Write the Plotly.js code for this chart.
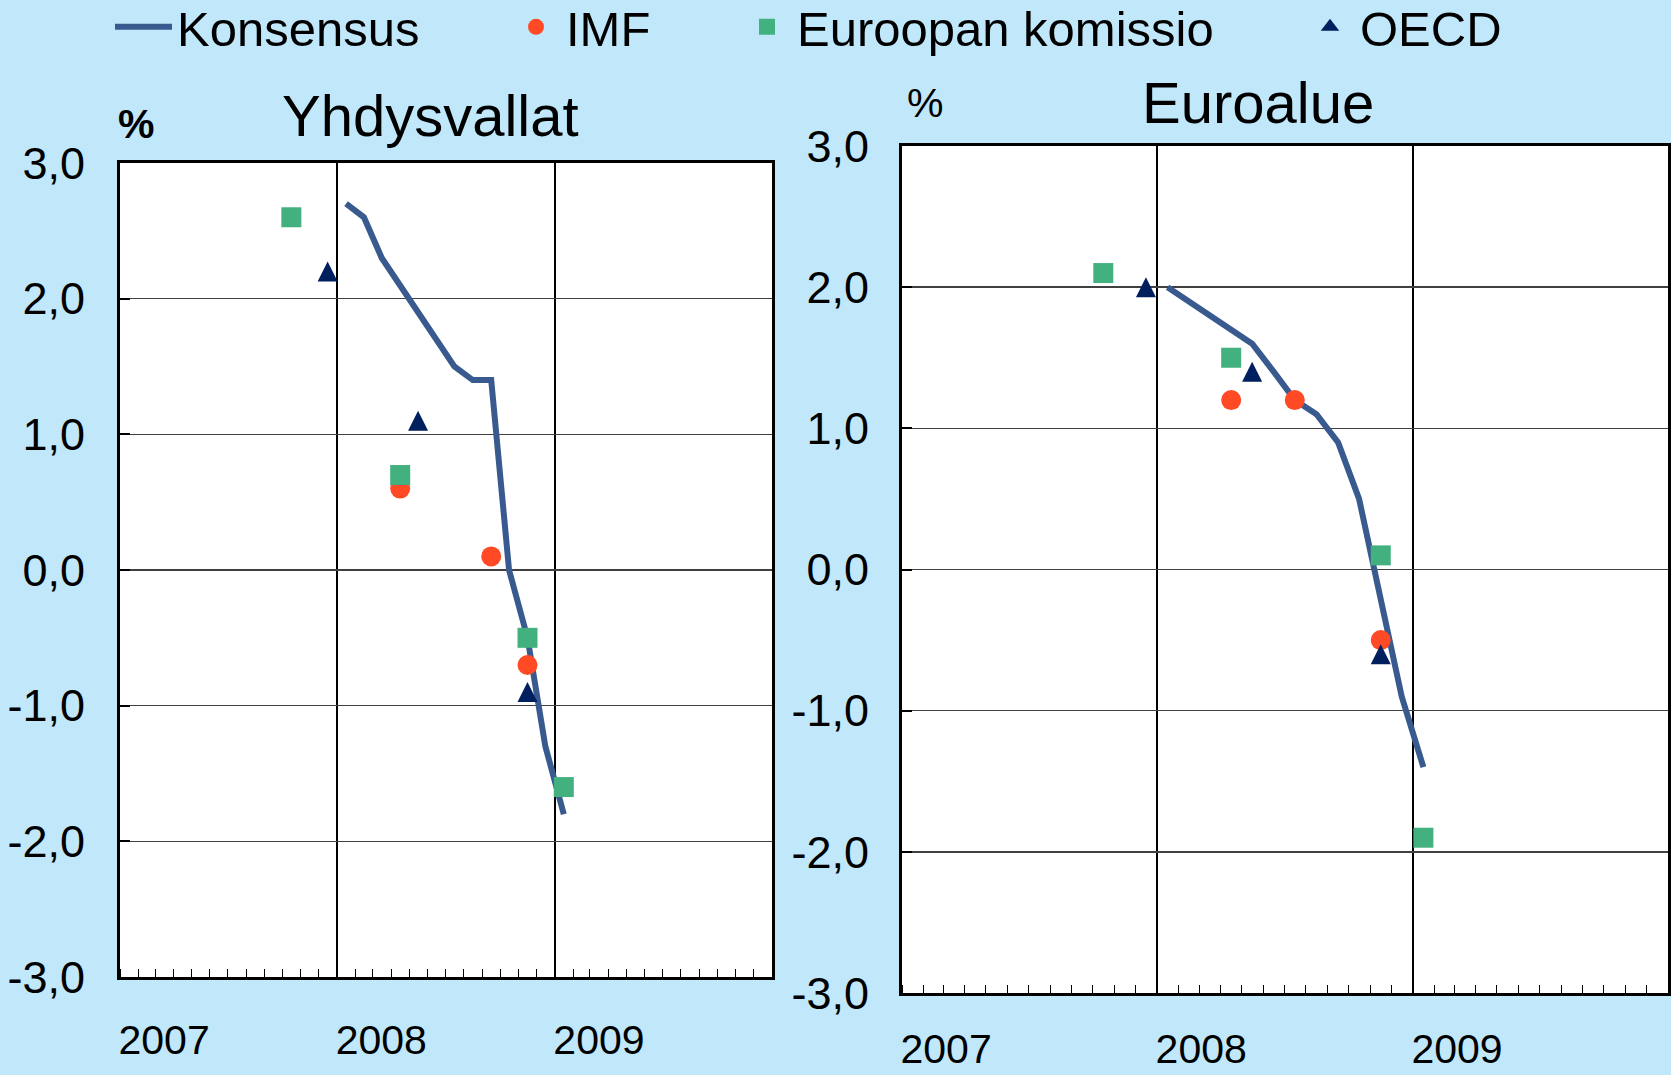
<!DOCTYPE html>
<html>
<head>
<meta charset="utf-8">
<script src="https://cdn.plot.ly/plotly-3.0.1.min.js"></script>
<style>
html,body{margin:0;padding:0;background:#c0e8fa;}
#chart{width:1671px;height:1075px;}
</style>
</head>
<body>
<div id="chart"></div>
<script>
// ---- data ----
const consensusMonths = ['2008-01-16','2008-02-15','2008-03-16','2008-04-16','2008-05-16','2008-06-16',
  '2008-07-16','2008-08-16','2008-09-16','2008-10-16','2008-11-16','2008-12-16','2009-01-16'];
const usConsensus = [2.7, 2.6, 2.3, 2.1, 1.9, 1.7, 1.5, 1.4, 1.4, 0.0, -0.5, -1.3, -1.8];
const euConsensus = [2.0, 1.9, 1.8, 1.7, 1.6, 1.4, 1.2, 1.1, 0.9, 0.5, -0.2, -0.9, -1.4];

const usImfDates = ['2008-04-16','2008-09-16','2008-11-16'];
const usImf = [0.6, 0.1, -0.7];
const usEcDates = ['2007-10-16','2008-04-16','2008-11-16','2009-01-16'];
const usEc = [2.6, 0.7, -0.5, -1.6];
const usOecdDates = ['2007-12-16','2008-05-16','2008-11-16'];
const usOecd = [2.2, 1.1, -0.9];

const euImfDates = ['2008-04-16','2008-07-16','2008-11-16'];
const euImf = [1.2, 1.2, -0.5];
const euEcDates = ['2007-10-16','2008-04-16','2008-11-16','2009-01-16'];
const euEc = [2.1, 1.5, 0.1, -1.9];
const euOecdDates = ['2007-12-16','2008-05-16','2008-11-16'];
const euOecd = [2.0, 1.4, -0.6];

const seriesNames = ['Konsensus', 'IMF', 'Euroopan komissio', 'OECD'];
const panelTitles = ['Yhdysvallat', 'Euroalue'];
const yearTickVals = ['2007-01-01', '2008-01-01', '2009-01-01'];
const yearTickText = ['2007', '2008', '2009'];
const yTickVals = [-3, -2, -1, 0, 1, 2, 3];
const yTickText = ['-3,0', '-2,0', '-1,0', '0,0', '1,0', '2,0', '3,0'];

// ---- styles ----
const FONT = 'Liberation Sans, Arial, sans-serif';
const C_LINE = '#385a8e', C_IMF = '#ff4a25', C_EC = '#43b07f', C_OECD = '#001f5e';
const W = 1671, H = 1075;

function panelTraces(ax, cons, imfD, imf, ecD, ec, oeD, oe, show) {
  const xa = ax === 1 ? 'x' : 'x2', ya = ax === 1 ? 'y' : 'y2';
  return [
    {type:'scatter', mode:'lines', x:consensusMonths, y:cons, name:seriesNames[0], xaxis:xa, yaxis:ya,
     line:{color:C_LINE, width:6}, showlegend:show, legend:'legend'},
    {type:'scatter', mode:'markers', x:imfD, y:imf, name:seriesNames[1], xaxis:xa, yaxis:ya,
     marker:{color:C_IMF, size:20, symbol:'circle'}, showlegend:show, legend:'legend2'},
    {type:'scatter', mode:'markers', x:ecD, y:ec, name:seriesNames[2], xaxis:xa, yaxis:ya,
     marker:{color:C_EC, size:20, symbol:'square'}, showlegend:show, legend:'legend3'},
    // centred, near-equilateral triangle: arrow shape turned upward and pulled back onto its point
    {type:'scatter', mode:'markers', x:oeD, y:oe, name:seriesNames[3], xaxis:xa, yaxis:ya,
     marker:{color:C_OECD, size:20, symbol:'arrow-down', angle:180, standoff:10}, showlegend:false}
  ];
}

const traces = [
  ...panelTraces(1, usConsensus, usImfDates, usImf, usEcDates, usEc, usOecdDates, usOecd, true),
  ...panelTraces(2, euConsensus, euImfDates, euImf, euEcDates, euEc, euOecdDates, euOecd, false),
  // legend entry for OECD (no data drawn)
  {type:'scatter', mode:'markers', x:[null], y:[null], name:seriesNames[3], xaxis:'x', yaxis:'y',
   marker:{color:C_OECD, size:17, symbol:'triangle-up'}, showlegend:true, legend:'legend4', hoverinfo:'skip'}
];

function xAxis(domain, anchor, standoff) {
  return {
    domain: domain, anchor: anchor, type:'date',
    range:['2007-01-01','2010-01-01'],
    tickmode:'array', tickvals:yearTickVals, ticktext:yearTickText,
    ticklabelposition:'outside right', ticklabelstandoff:standoff, ticklabelshift:-3,
    tickfont:{family:FONT, size:41, color:'#000'},
    ticks:'', showgrid:true, gridcolor:'#000', gridwidth:2.5,
    showline:true, linecolor:'#000', linewidth:3, mirror:true, zeroline:false,
    minor:{tick0:'2007-01-01', dtick:'M1', ticks:'inside', ticklen:8, tickwidth:1, tickcolor:'#000', showgrid:false},
    fixedrange:true
  };
}
function yAxis(domain, anchor, standoff) {
  return {
    domain: domain, anchor: anchor, range:[-3,3],
    tickmode:'array', tickvals:yTickVals, ticktext:yTickText,
    tickfont:{family:FONT, size:45, color:'#000'}, ticklabelstandoff:standoff,
    ticks:'inside', ticklen:10, tickwidth:2, tickcolor:'#000',
    showgrid:true, gridcolor:'#404040', gridwidth:1.5,
    showline:true, linecolor:'#000', linewidth:3, mirror:true, zeroline:false,
    fixedrange:true
  };
}
function legendAt(xpx, itemwidth) {
  return {
    xref:'container', yref:'container', x:xpx / W, y:1 - 27 / H, xanchor:'left', yanchor:'middle',
    orientation:'h', bgcolor:'rgba(0,0,0,0)', borderwidth:0,
    font:{family:FONT, size:49, color:'#000'}, itemsizing:'trace', itemwidth:itemwidth,
    itemclick:false, itemdoubleclick:false
  };
}

const layout = {
  width: W, height: H,
  margin:{l:0, r:0, t:0, b:0, pad:0, autoexpand:false},
  paper_bgcolor:'#c0e8fa', plot_bgcolor:'#ffffff',
  font:{family:FONT, color:'#000'},
  xaxis: xAxis([120/W, 772/W], 'y', 25),
  yaxis: yAxis([1 - 977/H, 1 - 163/H], 'x', 23),
  xaxis2: xAxis([902/W, 1668/W], 'y2', 18),
  yaxis2: yAxis([1 - 993/H, 1 - 146/H], 'x2', 21),
  legend: legendAt(110, 57),
  legend2: legendAt(506, 50),
  legend3: legendAt(737, 50),
  legend4: legendAt(1300, 50),
  annotations: [
    {xref:'paper', yref:'paper', x:430/W, y:1 - 115/H, xanchor:'center', yanchor:'middle', showarrow:false,
     text:panelTitles[0], font:{family:FONT, size:58, color:'#000'}},
    {xref:'paper', yref:'paper', x:1258/W, y:1 - 103/H, xanchor:'center', yanchor:'middle', showarrow:false,
     text:panelTitles[1], font:{family:FONT, size:58, color:'#000'}},
    {xref:'paper', yref:'paper', x:136/W, y:1 - 124/H, xanchor:'center', yanchor:'middle', showarrow:false,
     text:'<b>%</b>', font:{family:FONT, size:41, color:'#000'}},
    {xref:'paper', yref:'paper', x:925/W, y:1 - 103/H, xanchor:'center', yanchor:'middle', showarrow:false,
     text:'%', font:{family:FONT, size:41, color:'#000'}}
  ],
  showlegend:true
};

Plotly.newPlot('chart', traces, layout, {displayModeBar:false, staticPlot:true});
</script>
</body>
</html>
